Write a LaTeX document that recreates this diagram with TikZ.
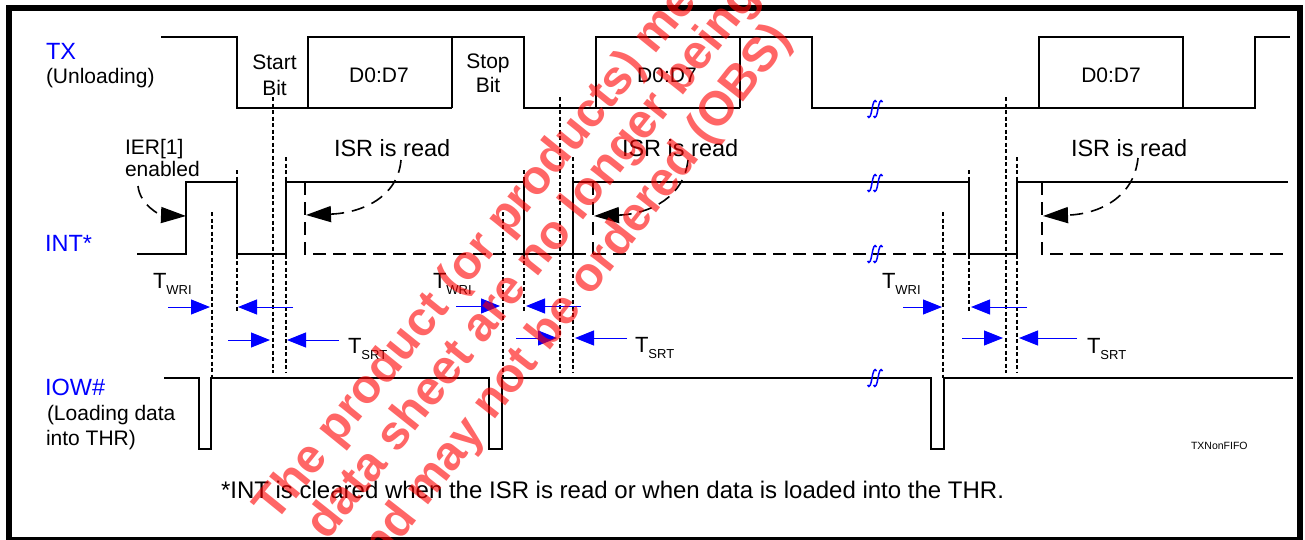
\documentclass[tikz,border=0pt]{standalone}
\usepackage{fontspec}
\setmainfont{Liberation Sans}
\usetikzlibrary{arrows.meta}
\newcommand\mysub[1]{\raisebox{-6pt}{\fontsize{13}{13}\selectfont #1}}
\begin{document}
\begin{tikzpicture}[x=1pt,y=-1pt,
  every node/.style={inner sep=0pt, outer sep=0pt},
  sig/.style={line width=1.8pt, line join=miter},
  tdash/.style={line width=1.2pt, dash pattern=on 4pt off 2.5pt},
  ldash/.style={line width=1.6pt, dash pattern=on 12.5pt off 7.5pt},
  barrow/.style={draw=blue, line width=1pt, -{Triangle[length=19pt,width=15pt]}},
  carrow/.style={line width=1.6pt, dash pattern=on 13pt off 8pt, -{Triangle[length=25pt,width=16pt]}},
  lbl/.style={font=\fontsize{21}{25}\selectfont},
  blbl/.style={font=\fontsize{23.5}{28}\selectfont, text=blue},
  isr/.style={font=\fontsize{23.5}{28}\selectfont},
  tl/.style={font=\fontsize{22}{26}\selectfont},
  wm/.style={font=\fontsize{48}{52}\selectfont\bfseries, text=red, text opacity=0.6, anchor=west},
  brk/.pic={
    \foreach \d in {-3,3}{
      \draw[blue, line width=1.5pt] (\d-4.5,7) .. controls (\d-2.5,11) and (\d-1,6) .. (\d,0) .. controls (\d+1,-6) and (\d+2.5,-11) .. (\d+4.5,-7);
    }
  }
]
\useasboundingbox (0,0) rectangle (1305,539);
\fill[white] (0,0) rectangle (1305,539);
\draw[line width=5.5pt] (9,8) rectangle (1300,540);

% TX waveform
\draw[sig] (161,37) -- (237,37) -- (237,108) -- (452,108);
\draw[sig] (308,108) -- (308,37) -- (524,37) -- (524,108) -- (740,108);
\draw[sig] (452,108) -- (452,37);
\draw[sig] (596,108) -- (596,37) -- (812,37) -- (812,108) -- (1255,108) -- (1255,37) -- (1290,37);
\draw[sig] (740,108) -- (740,37);
\draw[sig] (1039,108) -- (1039,37) -- (1183,37) -- (1183,108);

% INT waveform
\draw[sig] (137,254) -- (186,254) -- (186,182) -- (237,182) -- (237,254) -- (286,254) -- (286,182)
  -- (524,182) -- (524,254) -- (573,254) -- (573,182) -- (969,182) -- (969,254) -- (1017,254) -- (1017,182) -- (1288,182);
\draw[ldash] (305,182) -- (305,254) -- (969,254);
\draw[ldash] (593,182) -- (593,254);
\draw[ldash] (1042,182) -- (1042,254) -- (1288,254);

% IOW waveform
\draw[sig] (164,378) -- (199,378) -- (199,449) -- (211,449) -- (211,378) -- (489,378) -- (489,449) -- (502,449) -- (502,378)
  -- (931,378) -- (931,449) -- (944,449) -- (944,378) -- (1293,378);

% break marks
\foreach \yy in {109,183,254,378}{ \pic at (875,\yy) {brk}; }

% timing dashed lines
\foreach \a/\b/\c/\e in {212/237/273/286, 503/524/560/573, 943/969/1006/1017}{
  \draw[tdash] (\a,212) -- (\a,378);
  \draw[tdash] (\b,170) -- (\b,312);
  \draw[tdash] (\c,97) -- (\c,373);
  \draw[tdash] (\e,157) -- (\e,373);
}

% blue timing arrows
\draw[barrow] (168,307) -- (210,307);
\draw[barrow] (293,307) -- (238,307);
\draw[barrow] (228,340) -- (270,340);
\draw[barrow] (339,340) -- (287,340);
\draw[barrow] (456,306) -- (500,306);
\draw[barrow] (581,306) -- (526,306);
\draw[barrow] (516,338) -- (557,338);
\draw[barrow] (627,338) -- (575,338);
\draw[barrow] (903,307) -- (942,307);
\draw[barrow] (1027,307) -- (971,307);
\draw[barrow] (962,338) -- (1003,338);
\draw[barrow] (1077,338) -- (1019,338);

% labels
\node[blbl, anchor=base west] (tx) at (46,59) {TX};
\node[lbl, anchor=base west] (unl) at (46,83) {(Unloading)};
\node[lbl, anchor=base] (start) at (274.5,69) {Start};
\node[lbl, anchor=base] (startb) at (274.5,95) {Bit};
\node[lbl, anchor=base] (d1) at (379,82) {D0:D7};
\node[lbl, anchor=base] (stop) at (488,68) {Stop};
\node[lbl, anchor=base] (stopb) at (488,92) {Bit};
\node[lbl, anchor=base] (d2) at (667,82) {D0:D7};
\node[lbl, anchor=base] (d3) at (1111,82) {D0:D7};
\node[lbl, anchor=base west] (ier) at (125,154) {IER[1]};
\node[lbl, anchor=base west] (ena) at (125,176) {enabled};
\node[isr, anchor=base west] (isr1) at (334,156) {ISR is read};
\node[isr, anchor=base west] (isr2) at (622,156) {ISR is read};
\node[isr, anchor=base west] (isr3) at (1071,156) {ISR is read};
\node[blbl, anchor=base west] (int) at (45,251) {INT*};
\node[blbl, anchor=base west] (iow) at (45,395) {IOW\#};
\node[lbl, anchor=base west] (load1) at (47,420) {(Loading data};
\node[lbl, anchor=base west] (load2) at (46,445) {into THR)};
\node[font=\fontsize{24}{28}\selectfont, anchor=base west] (note) at (221,498) {*INT is cleared when the ISR is read or when data is loaded into the THR.};
\node[font=\fontsize{10.5}{12}\selectfont, anchor=base west] (fig) at (1191,449) {TXNonFIFO};

\node[tl, anchor=base west] (twri1) at (153,288) {T\mysub{WRI}};
\node[tl, anchor=base west] (tsrt1) at (348,353) {T\mysub{SRT}};
\node[tl, anchor=base west] (twri2) at (433,288) {T\mysub{WRI}};
\node[tl, anchor=base west] (tsrt2) at (635,352) {T\mysub{SRT}};
\node[tl, anchor=base west] (twri3) at (882,288) {T\mysub{WRI}};
\node[tl, anchor=base west] (tsrt3) at (1087,353) {T\mysub{SRT}};

% curved dashed arrows
\coordinate (c0) at (138,186);
\coordinate (c0t) at (186,216);
\draw[carrow] (c0) .. controls (140,205) and (160,215) .. (c0t);
\coordinate (c1) at (401,160);
\coordinate (c1t) at (306,215);
\draw[carrow] (c1) .. controls (398,197) and (362,213) .. (c1t);
\coordinate (c2) at (688,160);
\coordinate (c2t) at (594,216);
\draw[carrow] (c2) .. controls (684,197) and (650,214) .. (c2t);
\coordinate (c3) at (1138,158);
\coordinate (c3t) at (1043,216);
\draw[carrow] (c3) .. controls (1134,197) and (1100,214) .. (c3t);

% watermark
\begin{scope}
\clip (0,0) rectangle (1305,539);
\node[wm, rotate=51] (wm1) at (266,516) {The product (or products) mentioned};
\node[wm, rotate=51.5] (wm2) at (318,534) {data sheet are no longer being};
\node[wm, rotate=52] (wm3) at (356,578) {and may not be ordered (OBS)};
\end{scope}
\end{tikzpicture}
\end{document}
